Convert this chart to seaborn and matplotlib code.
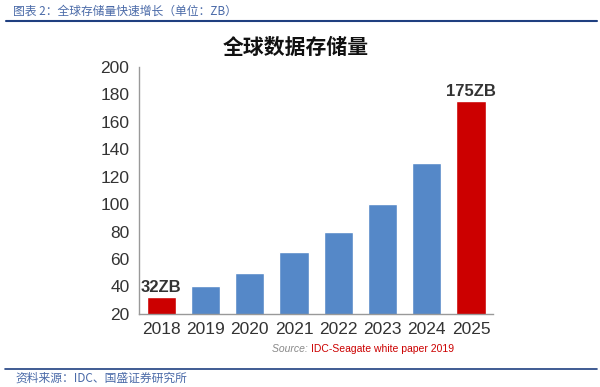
import matplotlib
matplotlib.use('Agg')
import matplotlib.pyplot as plt
import seaborn as sns
import pandas as pd
from matplotlib.lines import Line2D

years = ['2018', '2019', '2020', '2021', '2022', '2023', '2024', '2025']
storage_zb = [32, 40, 50, 65, 80, 100, 130, 175]
highlight = ['2018', '2025']

sns.set_style('white')
plt.rcParams['font.family'] = ['Liberation Sans', 'Noto Sans CJK SC', 'DejaVu Sans']

df = pd.DataFrame({'year': years, 'zb': storage_zb})
blue = '#5588c8'
red = '#cc0000'
palette = {y: (red if y in highlight else blue) for y in years}

fig = plt.figure(figsize=(6, 3.87), dpi=100)
ax = fig.add_axes([0.232, 0.189, 0.590, 0.638])

sns.barplot(data=df, x='year', y='zb', hue='year', palette=palette,
            width=0.66, legend=False, ax=ax, saturation=1)

ax.set_ylim(20, 200)
ax.set_xlim(-0.5, len(years) - 0.5)
ax.set_yticks(range(20, 201, 20))
ax.set_xlabel('')
ax.set_ylabel('')

for s in ['top', 'right']:
    ax.spines[s].set_visible(False)
for s in ['left', 'bottom']:
    ax.spines[s].set_color('#999999')
    ax.spines[s].set_linewidth(1.0)

ax.tick_params(axis='y', length=4, color='#999999', labelsize=12.5, labelcolor='#333333', pad=3)
ax.tick_params(axis='x', which='major', length=0, labelsize=12.5, labelcolor='#333333', pad=6)
ax.set_xticks([i - 0.5 for i in range(len(years) + 1)], minor=True)
ax.tick_params(axis='x', which='minor', length=4, color='#999999')

# labels on the highlighted bars
for i, (y, v) in enumerate(zip(years, storage_zb)):
    if y in highlight:
        ax.text(i, v + 2, f'{v}ZB', ha='center', va='bottom', fontsize=12,
                fontweight='bold', color='#333333')

fig.text(0.493, 0.878, '全球数据存储量', ha='center', va='center', fontsize=15,
         fontweight='bold', family=['Noto Sans CJK SC'], color='#111111')

# source line under the chart
fig.text(0.518, 0.098, 'Source: ', ha='right', va='center', fontsize=7.5,
         style='italic', color='#888888')
fig.text(0.518, 0.098, 'IDC-Seagate white paper 2019', ha='left', va='center',
         fontsize=7.5, color='#cc0000')

# report header / footer
fig.text(0.022, 0.972, '图表 2：全球存储量快速增长（单位：ZB）', ha='left', va='center',
         fontsize=8.5, style='italic', color='#4a6aa8',
         family=['Noto Sans CJK SC', 'DejaVu Sans'])
fig.add_artist(Line2D([0.01, 0.995], [0.945, 0.945], color='#1f3f80', linewidth=1.5))
fig.add_artist(Line2D([0.008, 0.995], [0.047, 0.047], color='#1f3f80', linewidth=1.2))
fig.text(0.025, 0.024, '资料来源：IDC、国盛证券研究所', ha='left', va='center',
         fontsize=8.5, style='italic', color='#4a6aa8',
         family=['Noto Sans CJK SC', 'DejaVu Sans'])

fig.savefig('out.png', dpi=100)
